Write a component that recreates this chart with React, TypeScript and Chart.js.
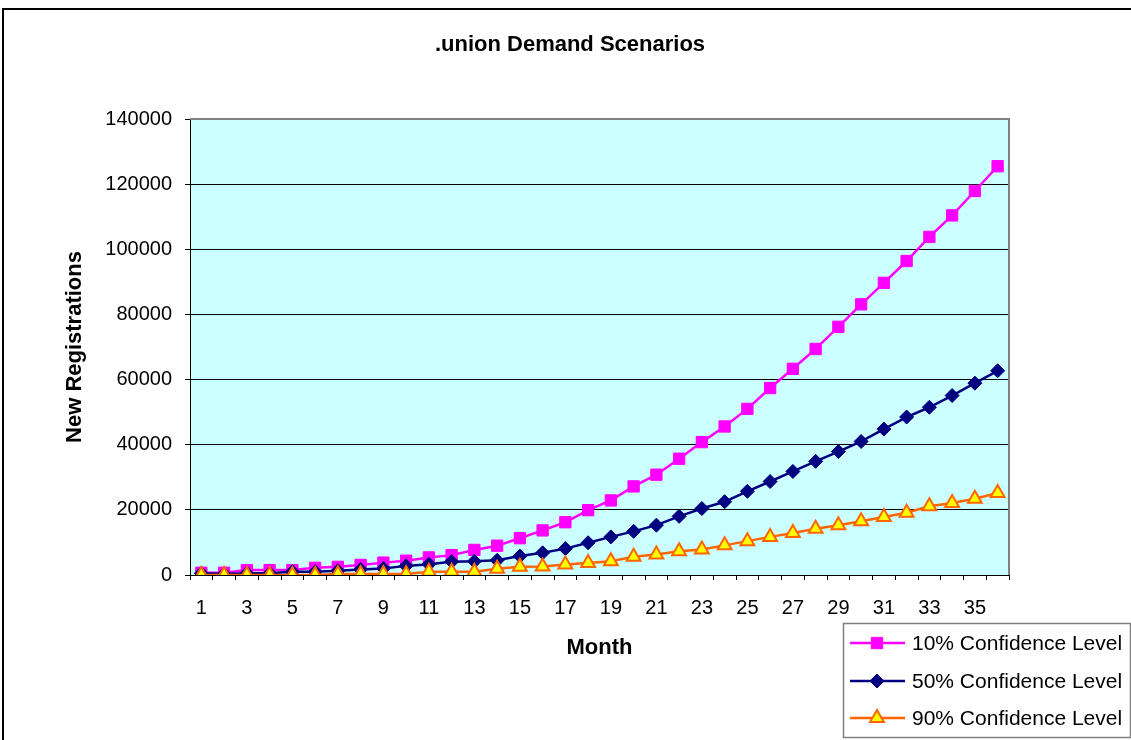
import React, { useEffect, useRef } from 'react';
import { Chart, registerables } from 'chart.js';

Chart.register(...registerables);

const months = ['1','2','3','4','5','6','7','8','9','10','11','12','13','14','15','16','17','18','19','20','21','22','23','24','25','26','27','28','29','30','31','32','33','34','35','36'];

const conf10 = [700,700,1500,1500,1500,2200,2500,3100,3800,4400,5400,6100,7700,9000,11300,13700,16200,19900,22900,27200,30800,35700,40800,45600,51000,57400,63300,69400,76200,83100,89700,96400,103800,110400,117900,125500];
const conf50 = [500,300,500,500,1000,1000,1300,1700,2000,2800,3300,4100,4200,4500,5800,6800,8100,9900,11700,13400,15300,18000,20400,22500,25700,28700,31800,34900,37900,41000,44800,48500,51500,55100,58900,62700];
const conf90 = [0,0,0,0,0,0,300,300,300,300,1000,1000,1000,1900,2500,2600,3200,3700,4200,5600,6300,7300,7800,9100,10400,11700,12900,14200,15300,16500,17800,19100,21100,22100,23400,25200];

const seriesLabels = ['10% Confidence Level', '50% Confidence Level', '90% Confidence Level'];
const chartTitle = '.union Demand Scenarios';
const yTickMax = 140000;
const yTickStep = 20000;

const FONT = '"Liberation Sans", Arial, sans-serif';

function drawMarker(ctx: CanvasRenderingContext2D, style: string, x: number, y: number, r: number) {
  ctx.beginPath();
  if (style === 'rect') {
    const s = Math.SQRT1_2 * r;
    ctx.rect(x - s, y - s, 2 * s, 2 * s);
  } else if (style === 'rectRot') {
    ctx.moveTo(x, y - r);
    ctx.lineTo(x + r, y);
    ctx.lineTo(x, y + r);
    ctx.lineTo(x - r, y);
    ctx.closePath();
  } else if (style === 'triangle') {
    for (let i = 0; i < 3; i++) {
      const a = (i * 2 * Math.PI) / 3;
      const px = x + Math.sin(a) * r;
      const py = y - Math.cos(a) * r;
      if (i === 0) ctx.moveTo(px, py); else ctx.lineTo(px, py);
    }
    ctx.closePath();
  }
}

const framePlugin = {
  id: 'frame',
  beforeDraw(chart: any) {
    const { ctx, chartArea } = chart;
    ctx.save();
    ctx.fillStyle = '#ffffff';
    ctx.fillRect(0, 0, chart.width, chart.height);
    ctx.strokeStyle = '#000000';
    ctx.lineWidth = 2;
    ctx.strokeRect(3, 9, chart.width + 50, chart.height + 50);
    ctx.fillStyle = '#CCFFFF';
    ctx.fillRect(chartArea.left, chartArea.top, chartArea.right - chartArea.left, chartArea.bottom - chartArea.top);
    ctx.fillStyle = '#000000';
    ctx.font = `bold 22px ${FONT}`;
    ctx.textAlign = 'center';
    ctx.textBaseline = 'middle';
    ctx.fillText(chartTitle, 570, 45);
    ctx.restore();
  },
  beforeDatasetsDraw(chart: any) {
    const { ctx, chartArea } = chart;
    ctx.save();
    ctx.strokeStyle = '#808080';
    ctx.lineWidth = 2;
    ctx.beginPath();
    ctx.moveTo(chartArea.left, chartArea.top);
    ctx.lineTo(chartArea.right, chartArea.top);
    ctx.lineTo(chartArea.right, chartArea.bottom);
    ctx.stroke();
    ctx.restore();
  },
  afterDraw(chart: any) {
    const { ctx } = chart;
    ctx.save();
    const bx = 843.5, by = 623.5, bw = 287, bh = 114;
    ctx.fillStyle = '#ffffff';
    ctx.fillRect(bx, by, bw, bh);
    ctx.strokeStyle = '#808080';
    ctx.lineWidth = 1.5;
    ctx.strokeRect(bx, by, bw, bh);
    const rows = [643, 681, 718];
    chart.data.datasets.forEach((ds: any, i: number) => {
      const y = rows[i];
      ctx.strokeStyle = ds.borderColor;
      ctx.lineWidth = ds.borderWidth;
      ctx.beginPath();
      ctx.moveTo(850, y);
      ctx.lineTo(905, y);
      ctx.stroke();
      drawMarker(ctx, ds.pointStyle, 877, y, ds.pointRadius);
      ctx.fillStyle = ds.pointBackgroundColor;
      ctx.fill();
      ctx.strokeStyle = ds.pointBorderColor;
      ctx.lineWidth = ds.pointBorderWidth;
      ctx.stroke();
      ctx.fillStyle = '#000000';
      ctx.font = `21px ${FONT}`;
      ctx.textAlign = 'left';
      ctx.textBaseline = 'middle';
      ctx.fillText(ds.label, 912, y + 1);
    });
    ctx.restore();
  },
};

export default function App() {
  const canvasRef = useRef<HTMLCanvasElement | null>(null);

  useEffect(() => {
    document.body.style.margin = '0';
    document.body.style.overflow = 'hidden';
    const canvas = canvasRef.current;
    if (!canvas) return;
    const chart = new Chart(canvas, {
      type: 'line',
      data: {
        labels: months,
        datasets: [
          {
            label: seriesLabels[0],
            data: conf10,
            borderColor: '#FF00FF',
            backgroundColor: '#FF00FF',
            borderWidth: 2.5,
            pointStyle: 'rect',
            pointRadius: 8,
            pointHoverRadius: 8,
            pointBackgroundColor: '#FF00FF',
            pointBorderColor: '#FF00FF',
            pointBorderWidth: 1,
            tension: 0,
            order: 3,
          },
          {
            label: seriesLabels[1],
            data: conf50,
            borderColor: '#000080',
            backgroundColor: '#000080',
            borderWidth: 2.5,
            pointStyle: 'rectRot',
            pointRadius: 7,
            pointHoverRadius: 7,
            pointBackgroundColor: '#000080',
            pointBorderColor: '#000080',
            pointBorderWidth: 1,
            tension: 0,
            order: 2,
          },
          {
            label: seriesLabels[2],
            data: conf90,
            borderColor: '#FF6600',
            backgroundColor: '#FFFF00',
            borderWidth: 2.5,
            pointStyle: 'triangle',
            pointRadius: 8,
            pointHoverRadius: 8,
            pointBackgroundColor: '#FFFF00',
            pointBorderColor: '#FF6600',
            pointBorderWidth: 2,
            tension: 0,
            order: 1,
          },
        ],
      },
      options: {
        responsive: true,
        maintainAspectRatio: false,
        animation: false,
        events: [],
        layout: { padding: { left: 10, right: 122, top: 119, bottom: 65 } },
        plugins: {
          legend: { display: false },
          tooltip: { enabled: false },
          title: { display: false },
        },
        scales: {
          x: {
            type: 'category',
            offset: true,
            grid: {
              offset: true,
              drawOnChartArea: false,
              drawTicks: true,
              tickLength: 5,
              tickColor: '#000000',
              color: '#000000',
            },
            border: { display: true, color: '#000000', width: 1 },
            ticks: {
              autoSkip: false,
              maxRotation: 0,
              minRotation: 0,
              color: '#000000',
              padding: 16,
              font: { family: FONT, size: 20 },
              callback: (_v: any, i: number) => (i % 2 === 0 ? months[i] : ''),
            },
            title: {
              display: true,
              text: 'Month',
              color: '#000000',
              font: { family: FONT, size: 22, weight: 'bold' },
              padding: { top: 0, bottom: 14 },
            },
            afterFit: (scale: any) => { scale.height = 100; },
          },
          y: {
            min: 0,
            max: yTickMax,
            grid: {
              color: (c: any) => (c.tick && c.tick.value === yTickMax ? 'rgba(0,0,0,0)' : '#000000'),
              drawTicks: true,
              tickLength: 5,
              tickColor: '#000000',
              lineWidth: 1,
            },
            border: { display: true, color: '#000000', width: 1 },
            ticks: {
              stepSize: yTickStep,
              color: '#000000',
              padding: 13,
              font: { family: FONT, size: 20 },
              callback: (v: any) => String(v),
            },
            title: {
              display: true,
              text: 'New Registrations',
              color: '#000000',
              font: { family: FONT, size: 22, weight: 'bold' },
              padding: { top: 52, bottom: 0 },
            },
            afterFit: (scale: any) => { scale.width = 180; },
          },
        },
      },
      plugins: [framePlugin],
    });
    return () => chart.destroy();
  }, []);

  return (
    <div style={{ position: 'fixed', left: 0, top: 0, width: 1131, height: 740, overflow: 'hidden', background: '#ffffff' }}>
      <canvas ref={canvasRef} />
    </div>
  );
}
